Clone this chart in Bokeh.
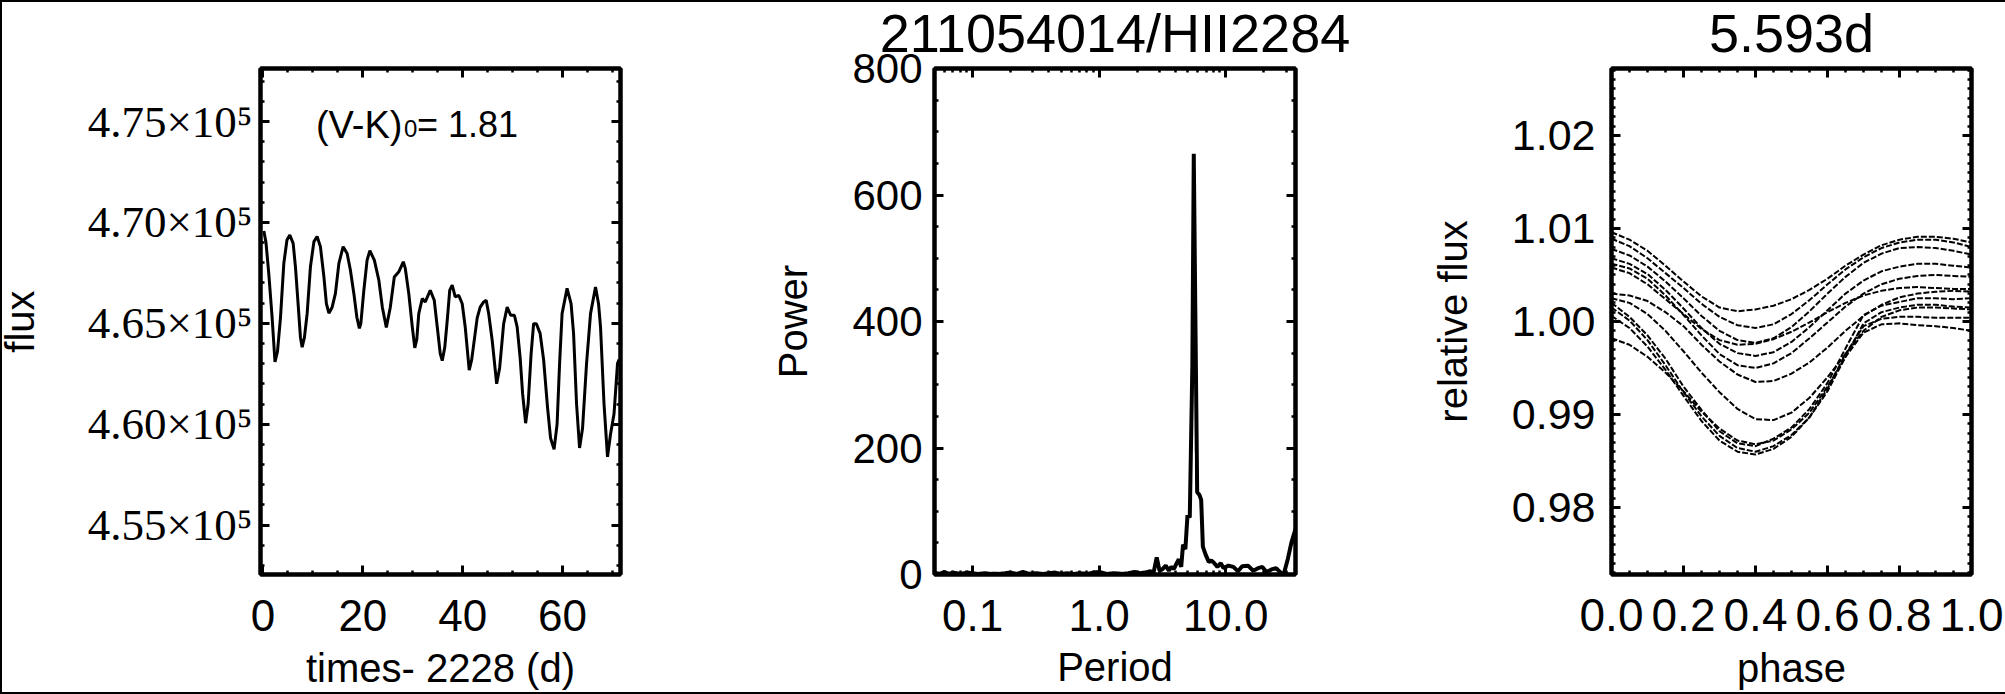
from bokeh.plotting import figure
from bokeh.layouts import row
from bokeh.models import (Range1d, FixedTicker, NumeralTickFormatter, LinearAxis,
                          LogAxis, Label)
from bokeh.embed import file_html
from bokeh.resources import INLINE

# ------------------------------------------------------------------ data
star_id = "211054014/HII2284"
best_period_label = "5.593d"
best_period = 5.593
vk0_value = "1.81"

time_days = [0.17, 0.6, 1.17, 1.83, 2.4, 2.9, 3.5, 4.17, 4.8, 5.37,
             6.04, 6.5, 6.98, 7.5, 7.84, 8.3, 8.84, 9.5, 10.2, 10.84,
             11.5, 12.2, 12.7, 13.2, 13.85, 14.5, 15.2, 16.05, 16.85, 17.5,
             18.2, 18.8, 19.3, 19.6, 20.2, 20.85, 21.4, 22.3, 23.2, 23.9,
             24.7, 25.5, 26.3, 27.2, 28.1, 28.5, 29.2, 29.9, 30.4, 30.8,
             31.2, 31.9, 32.5, 33.5, 34.3, 34.9, 35.5, 35.9, 36.4, 36.9,
             37.4, 37.9, 38.5, 39.2, 39.9, 40.5, 41.3, 41.8, 42.9, 43.5,
             44.2, 44.7, 45.2, 45.9, 46.8, 47.4, 48.2, 48.9, 49.6, 50.35,
             50.9, 51.5, 52.0, 52.6, 53.1, 53.7, 54.2, 54.75, 55.5, 56.2,
             57.0, 57.6, 58.3, 58.9, 59.4, 59.9, 60.9, 61.7, 62.2, 62.8,
             63.4, 64.0, 64.8, 65.6, 66.6, 67.2, 67.6, 68.3, 69.0, 69.6,
             70.3, 71.0, 71.3]
flux = [469580, 469000, 467430, 465270, 463090, 463600, 465270, 467970, 469130, 469380,
        468960, 467800, 466140, 464300, 463820, 464300, 465480, 467800, 469050, 469300,
        468800, 467300, 465970, 465500, 465800, 466470, 467970, 468800, 468460, 467640,
        466470, 465300, 464750, 465000, 466640, 468130, 468600, 468130, 467140, 465800,
        464800, 465800, 467300, 467550, 468050, 467720, 466470, 464820, 463780, 464200,
        465480, 466230, 466060, 466640, 466140, 464820, 463500, 463150, 463800, 465150,
        466640, 466890, 466310, 466390, 465970, 464820, 462680, 463200, 465270, 465800,
        466060, 466140, 465480, 464160, 462000, 462800, 464980, 465800, 465400, 465400,
        464820, 463300, 461500, 460050, 461000, 463500, 464980, 464980, 464500, 463200,
        460800, 459300, 458750, 460000, 463000, 465480, 466730, 465970, 464500, 461000,
        458820, 459800, 463000, 465480, 466800, 465970, 464820, 461000, 458380, 459500,
        460500, 463000, 463200]

period_days = [0.050, 0.055, 0.060, 0.065, 0.070, 0.075, 0.080, 0.090, 0.100, 0.110,
               0.125, 0.140, 0.160, 0.180, 0.200, 0.225, 0.250, 0.280, 0.320, 0.360,
               0.400, 0.450, 0.500, 0.560, 0.630, 0.700, 0.800, 0.900, 1.000, 1.150,
               1.300, 1.500, 1.700, 1.900, 2.100, 2.300, 2.500, 2.700, 2.850, 3.000,
               3.150, 3.360, 3.550, 3.700, 3.900, 4.100, 4.260, 4.450, 4.600, 4.800,
               4.990, 5.200, 5.450, 5.593, 5.750, 5.950, 6.200, 6.400, 6.600, 6.950,
               7.350, 7.700, 8.040, 8.600, 9.140, 9.600, 10.50, 11.50, 12.50, 13.50,
               15.00, 16.50, 18.00, 19.50, 21.00, 23.00, 25.00, 27.20, 28.70, 31.00,
               33.00, 35.60]
power = [3, 1, 4, 1, 3, 2, 1, 3, 2, 1,
         2, 1, 1, 2, 3, 1, 4, 1, 2, 1,
         2, 3, 1, 2, 1, 2, 1, 3, 4, 1,
         2, 1, 2, 4, 2, 3, 5, 4, 27, 6,
         8, 14, 6, 12, 9, 18, 24, 12, 47, 40,
         94, 90, 330, 665, 420, 130, 126, 118, 44, 31,
         20, 22, 19, 12, 18, 10, 14, 12, 5, 13,
         14, 6, 10, 12, 4, 8, 10, 3, 0, 25,
         50, 72]
marker_power_top = 193
marker_bar = [5.5, 6.6]
marker_bar_power = 9

phase = [0.0, 0.05, 0.1, 0.15, 0.2, 0.25, 0.3, 0.35, 0.4, 0.45, 0.5,
         0.55, 0.6, 0.65, 0.7, 0.75, 0.8, 0.85, 0.9, 0.95, 1.0]
fold_c1 = [1.0096, 1.0088, 1.0076, 1.0060, 1.0043, 1.0027, 1.0015, 1.0011, 1.0013, 1.0017, 1.0024,
           1.0034, 1.0046, 1.0060, 1.0072, 1.0082, 1.0088, 1.0091, 1.0091, 1.0089, 1.0085]
fold_c2 = [1.0089, 1.0081, 1.0068, 1.0052, 1.0036, 1.0019, 1.0005, 0.9996, 0.9993, 0.9997, 1.0008,
           1.0023, 1.0040, 1.0056, 1.0069, 1.0079, 1.0085, 1.0088, 1.0088, 1.0085, 1.0080]
fold_c3 = [1.0078, 1.0071, 1.0059, 1.0043, 1.0025, 1.0006, 0.9990, 0.9980, 0.9977, 0.9982, 0.9994,
           1.0011, 1.0030, 1.0048, 1.0063, 1.0073, 1.0079, 1.0080, 1.0079, 1.0076, 1.0072]
fold_c4 = [1.0068, 1.0062, 1.0051, 1.0034, 1.0014, 0.9993, 0.9976, 0.9966, 0.9963, 0.9967, 0.9978,
           0.9994, 1.0012, 1.0030, 1.0044, 1.0054, 1.0059, 1.0062, 1.0062, 1.0060, 1.0058]
fold_c5 = [1.0062, 1.0057, 1.0046, 1.0028, 1.0007, 0.9985, 0.9965, 0.9953, 0.9950, 0.9955, 0.9966,
           0.9982, 0.9999, 1.0016, 1.0030, 1.0040, 1.0046, 1.0049, 1.0050, 1.0049, 1.0048]
fold_c6 = [1.0058, 1.0052, 1.0040, 1.0024, 1.0008, 0.9992, 0.9980, 0.9975, 0.9976, 0.9981, 0.9989,
           0.9999, 1.0010, 1.0020, 1.0028, 1.0033, 1.0036, 1.0037, 1.0036, 1.0035, 1.0035]
fold_c7 = [1.0030, 1.0028, 1.0022, 1.0010, 0.9995, 0.9975, 0.9957, 0.9943, 0.9935, 0.9936, 0.9944,
           0.9956, 0.9972, 0.9990, 1.0006, 1.0018, 1.0026, 1.0030, 1.0032, 1.0033, 1.0032]
fold_c8 = [1.0025, 1.0020, 1.0008, 0.9990, 0.9968, 0.9945, 0.9924, 0.9906, 0.9895, 0.9894, 0.9902,
           0.9918, 0.9940, 0.9965, 0.9990, 1.0005, 1.0012, 1.0015, 1.0015, 1.0014, 1.0013]
fold_c9 = [1.0020, 1.0005, 0.9985, 0.9960, 0.9930, 0.9905, 0.9882, 0.9869, 0.9866, 0.9874, 0.9886,
           0.9906, 0.9934, 0.9971, 1.0007, 1.0017, 1.0021, 1.0025, 1.0025, 1.0024, 1.0025]
fold_c10 = [1.0015, 1.0001, 0.9980, 0.9953, 0.9924, 0.9898, 0.9877, 0.9864, 0.9860, 0.9866, 0.9878,
            0.9897, 0.9925, 0.9962, 0.9998, 1.0010, 1.0015, 1.0018, 1.0018, 1.0016, 1.0015]
fold_c11 = [1.0006, 0.9993, 0.9973, 0.9948, 0.9920, 0.9893, 0.9872, 0.9860, 0.9857, 0.9863, 0.9876,
            0.9897, 0.9928, 0.9965, 0.9995, 1.0003, 1.0005, 1.0005, 1.0004, 1.0004, 1.0004]
fold_c12 = [0.9982, 0.9975, 0.9962, 0.9945, 0.9925, 0.9903, 0.9885, 0.9872, 0.9868, 0.9872, 0.9884,
            0.9902, 0.9930, 0.9962, 0.9988, 0.9997, 0.9998, 0.9996, 0.9995, 0.9993, 0.9990]
folded_cycles = [fold_c1, fold_c2, fold_c3, fold_c4, fold_c5, fold_c6,
                 fold_c7, fold_c8, fold_c9, fold_c10, fold_c11, fold_c12]

flux_ticks = [455000, 460000, 465000, 470000, 475000]
flux_tick_labels = ["4.55×10⁵", "4.60×10⁵", "4.65×10⁵", "4.70×10⁵", "4.75×10⁵"]
time_ticks = [0, 20, 40, 60]
period_ticks = [0.1, 1.0, 10.0]
power_ticks = [0, 200, 400, 600, 800]
phase_ticks = [0.0, 0.2, 0.4, 0.6, 0.8, 1.0]
relflux_ticks = [0.98, 0.99, 1.00, 1.01, 1.02]

# ------------------------------------------------------------------ layout / style
SANS = "Liberation Sans"
SERIF = "Liberation Serif"
B = 2                      # outer border width
LIFT = 30                  # canvases start this far above the page top (room for titles)
OY = B - LIFT              # page y of the canvases' top edge
H = 694 - 2 * B + LIFT     # figure height
FR_TOP, FR_BOT = 68, 574   # frame top / bottom on the page
CUT1, CUT2, PAGE_R = 700, 1380, 2005
P1_SHIFT = 10              # extra room on the left of panel 1


def style_axis(ax, font=SANS, size=44, standoff=18, lab_standoff=0):
    ax.axis_line_width = 4
    ax.axis_line_color = "black"
    ax.major_tick_in = 9
    ax.major_tick_out = 0
    ax.minor_tick_in = 4
    ax.minor_tick_out = 0
    ax.major_tick_line_width = 3
    ax.minor_tick_line_width = 2.5
    ax.major_tick_line_color = "black"
    ax.minor_tick_line_color = "black"
    ax.major_label_text_font = font
    ax.major_label_text_font_size = f"{size}px"
    ax.major_label_text_color = "black"
    ax.major_label_standoff = standoff
    ax.axis_label_text_font = SANS
    ax.axis_label_text_font_size = "40px"
    ax.axis_label_text_font_style = "normal"
    ax.axis_label_text_color = "black"
    ax.axis_label_standoff = lab_standoff


def make_fig(width, frame_l, frame_r, x_range, y_range, x_type="linear",
             title=None, title_size=54, title_offset=0, margin=(-LIFT, 0, 0, 0)):
    p = figure(width=width, height=H, x_range=x_range, y_range=y_range,
               x_axis_type=x_type, output_backend="svg", toolbar_location=None,
               min_border_left=frame_l, min_border_right=width - frame_r,
               min_border_top=FR_TOP - OY, min_border_bottom=OY + H - FR_BOT,
               background_fill_color="white", border_fill_color=None,
               margin=margin)
    p.outline_line_color = "black"
    p.outline_line_width = 4
    p.grid.visible = False
    if title:
        p.title.text = title
        p.title.align = "center"
        p.title.text_font = SANS
        p.title.text_font_size = f"{title_size}px"
        p.title.text_font_style = "normal"
        p.title.text_color = "black"
        p.title.standoff = 11
        p.title.offset = title_offset
    return p


def add_mirror(p, xticker, yticker, xfmt, yfmt, xlog=False):
    top = LogAxis(ticker=xticker, formatter=xfmt) if xlog else LinearAxis(ticker=xticker, formatter=xfmt)
    right = LinearAxis(ticker=yticker, formatter=yfmt)
    for ax in (top, right):
        style_axis(ax, size=10, standoff=0)
        ax.major_label_text_color = None
    p.add_layout(top, "above")
    p.add_layout(right, "right")


def black_label(**kw):
    return Label(text_color="black", text_font=SANS, text_baseline="alphabetic", **kw)


# ---------------- panel 1 : light curve
w1 = CUT1 - B + P1_SHIFT
p1 = make_fig(w1, 260 - B + P1_SHIFT, 620 - B + P1_SHIFT, Range1d(-0.5, 71.6),
              Range1d(452550, 477630), margin=(-LIFT, 0, 0, -P1_SHIFT))
xt1 = FixedTicker(ticks=time_ticks, minor_ticks=[v for v in range(5, 75, 5) if v % 20])
yt1 = FixedTicker(ticks=flux_ticks,
                  minor_ticks=[v for v in range(453000, 478000, 1000) if v % 5000])
fx1 = NumeralTickFormatter(format="0")
fy1 = NumeralTickFormatter(format="0")
p1.xaxis.ticker = xt1
p1.yaxis.ticker = yt1
p1.xaxis.formatter = fx1
p1.yaxis.major_label_overrides = dict(zip(flux_ticks, flux_tick_labels))
style_axis(p1.xaxis[0], size=44, standoff=25, lab_standoff=12)
style_axis(p1.yaxis[0], font=SERIF, size=45, standoff=8, lab_standoff=43)
p1.xaxis.axis_label = "times- 2228 (d)"
p1.yaxis.axis_label = "flux"
add_mirror(p1, xt1, yt1, fx1, fy1)
p1.line(time_days, flux, line_color="black", line_width=3)
ann_x, ann_y = 10.6, 474830
p1.add_layout(black_label(x=ann_x, y=ann_y, text="(V-K)", text_font_size="38px"))
p1.add_layout(black_label(x=ann_x, y=ann_y, x_offset=88, y_offset=-4, text="0",
                          text_font_size="24px"))
p1.add_layout(black_label(x=ann_x, y=ann_y, x_offset=101, text="= " + vk0_value,
                          text_font_size="36px"))

# ---------------- panel 2 : periodogram
w2 = CUT2 - CUT1
p2 = make_fig(w2, 934 - CUT1, 1295 - CUT1, Range1d(0.05, 35.6), Range1d(0, 800),
              x_type="log", title=star_id, title_size=54, title_offset=1)
xt2 = FixedTicker(ticks=period_ticks,
                  minor_ticks=[0.05, 0.06, 0.07, 0.08, 0.09, 0.2, 0.3, 0.4, 0.5, 0.6, 0.7,
                               0.8, 0.9, 2, 3, 4, 5, 6, 7, 8, 9, 20, 30])
yt2 = FixedTicker(ticks=power_ticks, minor_ticks=[v for v in range(50, 800, 50) if v % 200])
fx2 = NumeralTickFormatter(format="0.0")
fy2 = NumeralTickFormatter(format="0")
p2.xaxis.ticker = xt2
p2.yaxis.ticker = yt2
p2.xaxis.formatter = fx2
p2.yaxis.formatter = fy2
style_axis(p2.xaxis[0], size=44, standoff=25, lab_standoff=11)
style_axis(p2.yaxis[0], size=42, standoff=12, lab_standoff=34)
p2.xaxis.axis_label = "Period"
p2.yaxis.axis_label = "Power"
add_mirror(p2, xt2, yt2, fx2, fy2, xlog=True)
p2.line(period_days, power, line_color="black", line_width=4)
p2.segment(x0=[best_period], y0=[5], x1=[best_period], y1=[marker_power_top],
           line_color="white", line_width=1.5)
p2.segment(x0=[marker_bar[0]], y0=[marker_bar_power], x1=[marker_bar[1]],
           y1=[marker_bar_power], line_color="white", line_width=1.5)

# ---------------- panel 3 : phase folded
w3 = PAGE_R - CUT2
p3 = make_fig(w3, 1611 - CUT2, 1971 - CUT2, Range1d(0.0, 1.0), Range1d(0.9728, 1.0272),
              title=best_period_label, title_size=54, title_offset=5)
xt3 = FixedTicker(ticks=phase_ticks,
                  minor_ticks=[round(0.05 * i, 2) for i in range(1, 20) if i % 4])
yt3 = FixedTicker(ticks=relflux_ticks,
                  minor_ticks=[round(0.973 + 0.001 * i, 3) for i in range(0, 55) if (i + 3) % 10])
fx3 = NumeralTickFormatter(format="0.0")
fy3 = NumeralTickFormatter(format="0.00")
p3.xaxis.ticker = xt3
p3.yaxis.ticker = yt3
p3.xaxis.formatter = fx3
p3.yaxis.formatter = fy3
style_axis(p3.xaxis[0], size=46, standoff=24, lab_standoff=12)
style_axis(p3.yaxis[0], size=43, standoff=16, lab_standoff=34)
p3.xaxis.axis_label = "phase"
p3.yaxis.axis_label = "relative flux"
add_mirror(p3, xt3, yt3, fx3, fy3)
for cyc in folded_cycles:
    p3.line(phase, cyc, line_color="black", line_width=2, line_dash="6 2")

layout = row(p1, p2, p3, styles={"border-left": f"{B}px solid black",
                                 "border-top": f"{B}px solid black",
                                 "border-bottom": f"{B}px solid black"})

open("out.html", "w").write(file_html(layout, INLINE))
